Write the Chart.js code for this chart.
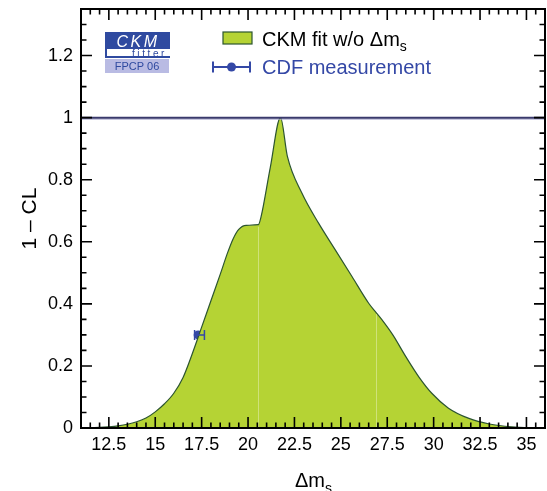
<!DOCTYPE html>
<html>
<head>
<meta charset="utf-8">
<script src="https://cdn.jsdelivr.net/npm/chart.js@4.4.1/dist/chart.umd.min.js"></script>
<style>
  html, body { margin: 0; padding: 0; background: #fff; }
  #wrap { width: 547px; height: 491px; }
</style>
</head>
<body>
<div id="wrap"><canvas id="chart" width="547" height="491"></canvas></div>
<script>
// CKMfitter profile of 1 - CL vs delta m_s
const fitX = [11.0, 12.0, 12.5, 13.0, 13.5, 14.0, 14.5, 15.0, 15.5, 16.0, 16.5, 17.0, 17.5, 18.0,
  18.5, 18.9, 19.2, 19.5, 19.9, 20.56, 20.7, 21.2, 21.75, 22.12, 22.9, 23.8, 24.7, 25.6,
  26.5, 26.9, 27.2, 27.8, 28.5, 29.2, 29.9, 30.8, 31.9, 33.0, 34.2, 35.5, 36.0];
const fitY = [0.0005, 0.002, 0.004, 0.007, 0.012, 0.02, 0.032, 0.052, 0.078, 0.112, 0.163, 0.24, 0.325, 0.41,
  0.495, 0.565, 0.61, 0.64, 0.653, 0.655, 0.68, 0.84, 1.0, 0.875, 0.757, 0.66, 0.574, 0.488,
  0.402, 0.372, 0.35, 0.3, 0.23, 0.165, 0.112, 0.064, 0.031, 0.013, 0.004, 0.001, 0.0005];

// CDF measurement (asymmetric errors)
const cdfX = [17.31];
const cdfY = [0.3];
const cdfErrLo = [0.19];
const cdfErrHi = [0.34];

const xTicks = [12.5, 15, 17.5, 20, 22.5, 25, 27.5, 30, 32.5, 35];
const yTicks = [0, 0.2, 0.4, 0.6, 0.8, 1, 1.2];
const seamX = [20.56, 26.88];
const refLevel = 1;

const FONT = "'Liberation Sans', Arial, Helvetica, sans-serif";
const FILL = "#b5d334";
const LINE = "#2c5530";
const BLUE = "#3448a6";

function interpFit(x) {
  for (let i = 1; i < fitX.length; i++) {
    if (x <= fitX[i]) {
      const t = (x - fitX[i - 1]) / (fitX[i] - fitX[i - 1]);
      return fitY[i - 1] + t * (fitY[i] - fitY[i - 1]);
    }
  }
  return 0;
}

// frame, inward ticks, ref line, error bars, legend and logo
const decorPlugin = {
  id: "decor",
  afterDatasetsDraw(chart) {
    const { ctx, chartArea: a, scales: { x, y } } = chart;
    ctx.save();

    // light seams in the filled area
    ctx.strokeStyle = "rgba(255,255,255,0.35)";
    ctx.lineWidth = 1;
    seamX.forEach((sx) => {
      const px = Math.round(x.getPixelForValue(sx)) + 0.5;
      ctx.beginPath();
      ctx.moveTo(px, y.getPixelForValue(0));
      ctx.lineTo(px, y.getPixelForValue(interpFit(sx)) + 2);
      ctx.stroke();
    });

    // horizontal line at 1 - CL = 1
    const yr = y.getPixelForValue(refLevel);
    ctx.strokeStyle = "#a8a8cc";
    ctx.lineWidth = 1;
    ctx.beginPath();
    ctx.moveTo(a.left, yr + 1.5);
    ctx.lineTo(a.right, yr + 1.5);
    ctx.stroke();
    ctx.strokeStyle = "#3a3a6c";
    ctx.lineWidth = 2;
    ctx.beginPath();
    ctx.moveTo(a.left, yr);
    ctx.lineTo(a.right, yr);
    ctx.stroke();

    // CDF error bars
    ctx.strokeStyle = BLUE;
    ctx.lineWidth = 1.5;
    cdfX.forEach((cx, i) => {
      const x0 = x.getPixelForValue(cx - cdfErrLo[i]);
      const x1 = x.getPixelForValue(cx + cdfErrHi[i]);
      const py = y.getPixelForValue(cdfY[i]);
      ctx.beginPath();
      ctx.moveTo(x0, py);
      ctx.lineTo(x1, py);
      ctx.moveTo(x0, py - 5);
      ctx.lineTo(x0, py + 5);
      ctx.moveTo(x1, py - 5);
      ctx.lineTo(x1, py + 5);
      ctx.stroke();
    });

    ctx.restore();
  },
  afterDraw(chart) {
    const { ctx, chartArea: a, scales: { x, y } } = chart;
    ctx.save();

    // inward ticks on all four sides
    ctx.strokeStyle = "#000";
    ctx.lineWidth = 1.6;
    ctx.beginPath();
    for (let v = 11; v <= 36.001; v += 0.5) {
      const px = x.getPixelForValue(v);
      const major = Math.abs(v / 2.5 - Math.round(v / 2.5)) < 1e-6;
      const len = major ? 11 : 5.5;
      ctx.moveTo(px, a.bottom);
      ctx.lineTo(px, a.bottom - len);
      ctx.moveTo(px, a.top);
      ctx.lineTo(px, a.top + len);
    }
    for (let v = 0; v <= 1.35001; v += 0.05) {
      const py = y.getPixelForValue(v);
      const major = Math.abs(v / 0.2 - Math.round(v / 0.2)) < 1e-6;
      const len = major ? 11 : 5.5;
      ctx.moveTo(a.left, py);
      ctx.lineTo(a.left + len, py);
      ctx.moveTo(a.right, py);
      ctx.lineTo(a.right - len, py);
    }
    ctx.stroke();

    // frame
    ctx.lineWidth = 2;
    ctx.strokeRect(a.left, a.top, a.right - a.left, a.bottom - a.top);

    // x axis title with subscript
    ctx.fillStyle = "#000";
    ctx.textBaseline = "alphabetic";
    ctx.font = "20px " + FONT;
    ctx.fillText("\u0394m", 295, 487);
    const w1 = ctx.measureText("\u0394m").width;
    ctx.font = "14px " + FONT;
    ctx.fillText("s", 295 + w1, 493);

    // legend
    ctx.fillStyle = FILL;
    ctx.fillRect(223, 32, 29, 12);
    ctx.strokeStyle = LINE;
    ctx.lineWidth = 1.2;
    ctx.strokeRect(223, 32, 29, 12);
    ctx.fillStyle = "#000";
    ctx.font = "20px " + FONT;
    const leg1 = "CKM fit w/o \u0394m";
    ctx.fillText(leg1, 262, 45.5);
    const lw = ctx.measureText(leg1).width;
    ctx.font = "14px " + FONT;
    ctx.fillText("s", 262 + lw, 51);

    ctx.strokeStyle = BLUE;
    ctx.lineWidth = 2;
    ctx.beginPath();
    ctx.moveTo(213, 67);
    ctx.lineTo(250, 67);
    ctx.moveTo(213, 61.5);
    ctx.lineTo(213, 72.5);
    ctx.moveTo(250, 61.5);
    ctx.lineTo(250, 72.5);
    ctx.stroke();
    ctx.fillStyle = BLUE;
    ctx.beginPath();
    ctx.arc(231.5, 67, 4.5, 0, Math.PI * 2);
    ctx.fill();
    ctx.font = "20px " + FONT;
    ctx.fillText("CDF measurement", 262, 74);

    // CKMfitter logo
    ctx.fillStyle = "#2f4aa0";
    ctx.fillRect(105, 32, 65, 26);
    ctx.fillStyle = "#fff";
    ctx.fillRect(107, 49, 63, 7);
    ctx.font = "italic 16px " + FONT;
    ctx.letterSpacing = "2.5px";
    ctx.textAlign = "center";
    ctx.fillText("CKM", 138, 47);
    ctx.fillStyle = "#2f4aa0";
    ctx.font = "10px " + FONT;
    ctx.letterSpacing = "2.6px";
    ctx.textAlign = "right";
    ctx.fillText("fitter", 167, 56.5);
    ctx.letterSpacing = "0px";
    ctx.fillStyle = "#b9bbe3";
    ctx.fillRect(105, 59, 64, 14);
    ctx.fillStyle = "#2f4aa0";
    ctx.font = "11px " + FONT;
    ctx.textAlign = "center";
    ctx.fillText("FPCP 06", 137, 70);

    ctx.restore();
  },
};

new Chart(document.getElementById("chart"), {
  type: "scatter",
  data: {
    datasets: [
      {
        label: "CKM fit w/o \u0394ms",
        data: fitX.map((v, i) => ({ x: v, y: fitY[i] })),
        showLine: true,
        fill: "origin",
        backgroundColor: FILL,
        borderColor: LINE,
        borderWidth: 1.2,
        pointRadius: 0,
        cubicInterpolationMode: "monotone",
      },
      {
        label: "CDF measurement",
        data: cdfX.map((v, i) => ({ x: v, y: cdfY[i] })),
        backgroundColor: BLUE,
        borderWidth: 0,
        pointRadius: 4.5,
      },
    ],
  },
  options: {
    responsive: false,
    animation: false,
    layout: {
      autoPadding: false,
      padding: { top: 9, right: 2, left: 0, bottom: 0 },
    },
    scales: {
      x: {
        type: "linear",
        min: 11,
        max: 36,
        afterBuildTicks: (scale) => {
          scale.ticks = xTicks.map((v) => ({ value: v }));
        },
        afterFit: (scale) => {
          scale.height = 63;
          scale.paddingLeft = 0;
          scale.paddingRight = 0;
        },
        grid: { display: false, drawTicks: false },
        border: { display: false },
        ticks: {
          autoSkip: false,
          maxRotation: 0,
          padding: 6,
          color: "#000",
          font: { family: FONT, size: 18 },
          callback: (v) => String(v),
        },
      },
      y: {
        min: 0,
        max: 1.35,
        afterBuildTicks: (scale) => {
          scale.ticks = yTicks.map((v) => ({ value: v }));
        },
        afterFit: (scale) => {
          scale.width = 81;
          scale.paddingTop = 0;
          scale.paddingBottom = 0;
        },
        grid: { display: false, drawTicks: false },
        border: { display: false },
        title: {
          display: true,
          text: "1 \u2013 CL",
          color: "#000",
          font: { family: FONT, size: 21 },
          padding: { top: 18, bottom: 0 },
        },
        ticks: {
          padding: 8,
          color: "#000",
          font: { family: FONT, size: 18 },
          callback: (v) => String(v),
        },
      },
    },
    plugins: {
      legend: { display: false },
      tooltip: { enabled: false },
    },
  },
  plugins: [decorPlugin],
});
</script>
</body>
</html>
